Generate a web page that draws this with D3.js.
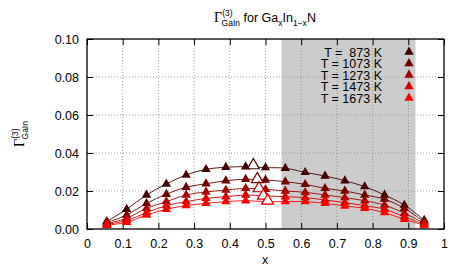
<!DOCTYPE html>
<html><head><meta charset="utf-8">
<script src="https://cdn.jsdelivr.net/npm/d3@7/dist/d3.min.js"></script>
<style>body{margin:0;background:#fff}svg{display:block}text{font-family:"Liberation Sans",Arial,sans-serif;fill:#000}</style>
</head><body>
<script>
const xs = [1,2,3,4,5,6,7,8,9,10,11,12,13,14,15,16,17].map(k => k/18);
const temps = ["873","1073","1273","1473","1673"];
const colors = ["#3f0000","#700000","#a30000","#d40000","#ff0000"];
const g873  = [0.0040,0.0104,0.0179,0.0237,0.0284,0.0314,0.0325,0.0328,0.0323,0.0320,0.0298,0.0279,0.0254,0.0223,0.0179,0.0126,0.0047];
const g1073 = [0.0034,0.0074,0.0135,0.0183,0.0220,0.0238,0.0254,0.0262,0.0258,0.0249,0.0235,0.0214,0.0200,0.0179,0.0157,0.0109,0.0038];
const g1273 = [0.0028,0.0056,0.0109,0.0144,0.0179,0.0195,0.0205,0.0214,0.0209,0.0200,0.0193,0.0179,0.0165,0.0149,0.0126,0.0083,0.0031];
const g1473 = [0.0024,0.0045,0.0086,0.0123,0.0144,0.0161,0.0170,0.0179,0.0174,0.0170,0.0165,0.0153,0.0139,0.0123,0.0104,0.0065,0.0025];
const g1673 = [0.0020,0.0035,0.0074,0.0104,0.0123,0.0135,0.0144,0.0149,0.0144,0.0144,0.0144,0.0135,0.0121,0.0109,0.0086,0.0051,0.0020];
const series = [g873,g1073,g1273,g1473,g1673];
const maxX = [0.466,0.477,0.482,0.494,0.506];
const maxY = [0.0335,0.0262,0.0214,0.0175,0.0149];
const bandX = [0.545,0.92];
const xTicks = [0,0.1,0.2,0.3,0.4,0.5,0.6,0.7,0.8,0.9,1];
const yTicks = [0,0.02,0.04,0.06,0.08,0.10];

const W=463,H=270, L=87,R=444,T=39,B=229;
const svg=d3.select("body").append("svg").attr("width",W).attr("height",H);
const x=d3.scaleLinear().domain([0,1]).range([L,R]);
const y=d3.scaleLinear().domain([0,0.1]).range([B,T]);

// band
svg.append("rect").attr("x",x(bandX[0])).attr("y",T).attr("width",x(bandX[1])-x(bandX[0])).attr("height",B-T).attr("fill","#cccccc");

// grid
const grid=svg.append("g").attr("stroke","#888").attr("stroke-width",0.8).attr("stroke-dasharray","1,2");
xTicks.slice(1,-1).forEach(t=>grid.append("line").attr("x1",x(t)).attr("x2",x(t)).attr("y1",T).attr("y2",B));
yTicks.slice(1,-1).forEach(t=>grid.append("line").attr("x1",L).attr("x2",R).attr("y1",y(t)).attr("y2",y(t)));

// axes
const tl=6;
const ax=svg.append("g");
ax.append("g").attr("transform",`translate(0,${B})`).call(d3.axisBottom(x).tickValues(xTicks).tickSizeInner(-tl).tickSizeOuter(0).tickPadding(10).tickFormat(d3.format("")));
ax.append("g").attr("transform",`translate(0,${T})`).call(d3.axisTop(x).tickValues(xTicks).tickSizeInner(-tl).tickSizeOuter(0).tickFormat(""));
ax.append("g").attr("transform",`translate(${L},0)`).call(d3.axisLeft(y).tickValues(yTicks).tickSizeInner(-tl).tickSizeOuter(0).tickPadding(8).tickFormat(d3.format(".2f")));
ax.append("g").attr("transform",`translate(${R},0)`).call(d3.axisRight(y).tickValues(yTicks).tickSizeInner(-tl).tickSizeOuter(0).tickFormat(""));
ax.selectAll(".domain").remove();
ax.selectAll("line").attr("stroke","#000").attr("stroke-width",1);
ax.selectAll("text").attr("font-size","12.5px").attr("font-family","Liberation Sans, Arial, sans-serif").attr("fill","#000");
svg.append("rect").attr("x",L).attr("y",T).attr("width",R-L).attr("height",B-T).attr("fill","none").attr("stroke","#000").attr("stroke-width",1.3);

// curves
const line=d3.line().x((d,i)=>x(xs[i])).y(d=>y(d)).curve(d3.curveCatmullRom);
const tri=d3.symbol().type(d3.symbolTriangle).size(38);
const triO=d3.symbol().type(d3.symbolTriangle).size(60);
series.forEach((s,k)=>{
  svg.append("path").attr("d",line(s)).attr("fill","none").attr("stroke",colors[k]).attr("stroke-width",0.9);
});
series.forEach((s,k)=>{
  svg.append("g").selectAll("path").data(s).join("path")
    .attr("transform",(d,i)=>`translate(${x(xs[i])},${y(d)})`).attr("d",tri).attr("fill",colors[k]);
});
series.forEach((s,k)=>{
  svg.append("path").attr("transform",`translate(${x(maxX[k])},${y(maxY[k])})`).attr("d",triO)
    .attr("fill","#fff").attr("stroke",colors[k]).attr("stroke-width",1.2);
});

// legend
temps.forEach((t,k)=>{
  const yy=52+k*11.5;
  svg.append("text").attr("x",382).attr("y",yy+4.5).attr("text-anchor","end").attr("font-size","12.5px")
    .style("white-space","pre").text(t.length===3?`T =  ${t} K`:`T = ${t} K`);
  svg.append("path").attr("transform",`translate(409,${yy})`).attr("d",tri).attr("fill",colors[k]);
});

// title
const title=svg.append("text").attr("x",265).attr("y",22).attr("text-anchor","middle").attr("font-size","12.5px");
title.append("tspan").attr("font-family","Liberation Serif, serif").attr("font-size","14px").text("Γ");
title.append("tspan").attr("font-size","8.5px").attr("dy",-6).text("(3)");
title.append("tspan").attr("font-size","8.5px").attr("dx",-11).attr("dy",10).text("GaIn");
title.append("tspan").attr("dy",-4).text(" for Ga");
title.append("tspan").attr("font-size","8.5px").attr("dy",4).text("x");
title.append("tspan").attr("dy",-4).text("In");
title.append("tspan").attr("font-size","8.5px").attr("dy",4).text("1−x");
title.append("tspan").attr("dy",-4).text("N");

// y label
const yl=svg.append("text").attr("transform","translate(24,134) rotate(-90)").attr("text-anchor","middle").attr("font-size","12.5px");
yl.append("tspan").attr("font-family","Liberation Serif, serif").attr("font-size","14px").text("Γ");
yl.append("tspan").attr("font-size","8.5px").attr("dy",-6).text("(3)");
yl.append("tspan").attr("font-size","8.5px").attr("dx",-11).attr("dy",10).text("GaIn");

// x label
svg.append("text").attr("x",265).attr("y",264).attr("text-anchor","middle").attr("font-size","12.5px").text("x");
</script>
</body></html>
